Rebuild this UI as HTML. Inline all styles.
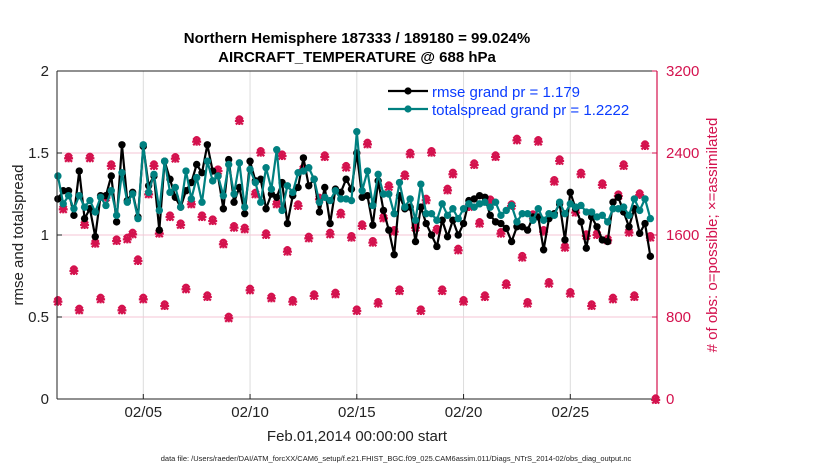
<!DOCTYPE html>
<html><head><meta charset="utf-8"><style>
body{margin:0;background:#fff;font-family:"Liberation Sans",sans-serif}
svg text{font-family:"Liberation Sans",sans-serif}
</style></head><body>
<svg id="chart" width="830" height="470" xmlns="http://www.w3.org/2000/svg">
<rect width="830" height="470" fill="#fff"/>
<g id="grid"></g>
<g id="series"></g>
<g id="axes"></g>
</svg>
<script>
const rmse=[1.22,1.27,1.27,1.12,1.39,1.10,1.16,0.99,1.24,1.24,1.36,1.08,1.55,1.21,1.26,1.11,1.54,1.30,1.36,1.03,1.45,1.34,1.23,1.17,1.27,1.32,1.43,1.38,1.55,1.39,1.36,1.16,1.46,1.20,1.29,1.13,1.45,1.33,1.34,1.16,1.25,1.23,1.32,1.07,1.24,1.29,1.47,1.30,1.34,1.14,1.29,1.07,1.28,1.26,1.34,1.28,1.50,1.23,1.24,1.06,1.33,1.15,1.03,0.88,1.24,1.16,1.17,0.96,1.17,1.07,1.00,0.93,1.09,0.99,1.09,1.00,1.07,1.21,1.22,1.24,1.23,1.12,1.08,1.07,1.04,0.96,1.05,1.05,1.03,1.11,1.11,0.91,1.10,1.13,1.19,0.97,1.26,1.16,1.08,0.92,1.11,1.05,0.97,0.96,1.20,1.23,1.14,1.05,1.16,1.01,1.07,0.87];
const spread=[1.36,1.19,1.24,1.16,1.24,1.17,1.21,1.14,1.23,1.18,1.27,1.12,1.38,1.20,1.25,1.10,1.55,1.26,1.37,1.15,1.45,1.26,1.29,1.17,1.39,1.22,1.35,1.20,1.45,1.33,1.36,1.24,1.43,1.25,1.44,1.17,1.40,1.32,1.20,1.41,1.28,1.52,1.15,1.30,1.26,1.38,1.39,1.41,1.34,1.20,1.23,1.21,1.27,1.22,1.22,1.21,1.63,1.27,1.39,1.18,1.37,1.25,1.25,1.13,1.32,1.17,1.22,1.09,1.31,1.13,1.13,1.09,1.19,1.12,1.16,1.10,1.16,1.19,1.17,1.19,1.20,1.17,1.20,1.12,1.15,1.18,1.08,1.13,1.13,1.09,1.16,1.09,1.13,1.12,1.20,1.13,1.19,1.17,1.18,1.14,1.14,1.11,1.12,1.08,1.16,1.16,1.17,1.12,1.22,1.15,1.22,1.10];
const nobs=[959,1860,2358,1259,875,1707,2358,1525,982,1974,2283,1551,875,1567,1616,1356,982,2006,2283,1623,917,1785,2354,1707,1080,1909,2520,1785,1005,1746,2234,1519,797,1681,2722,1665,1070,2006,2413,1610,992,1909,2380,1447,959,1893,2250,1577,1015,1958,2371,1616,1031,1811,2267,1584,868,1698,2494,1535,940,1772,2078,1642,1063,2185,2397,1681,868,1948,2413,1655,1063,2045,2202,1460,959,1883,2293,1720,1005,1941,2371,1623,1122,1893,2533,1389,940,1795,2520,1642,1135,2130,2332,1486,1037,1828,2202,1600,917,1610,2098,1558,982,1990,2283,1633,1005,2000,2478,1584,0];
const leftTicks=[0,0.5,1,1.5,2];
const rightTicks=[0,800,1600,2400,3200];
const dateTicks=[4,9,14,19,24];
const dateLabels=["02/05","02/10","02/15","02/20","02/25"];
const NS="http://www.w3.org/2000/svg";
const L=57,R=657,T=71,B=399;
const X=d=>57.9+21.35*d;
const Y=v=>B-(v/2)*(B-T);
const Y2=c=>B-(c/3200)*(B-T);
function mk(p,tag,at){const e=document.createElementNS(NS,tag);for(const k in at)e.setAttribute(k,at[k]);p.appendChild(e);return e;}
const grid=document.getElementById('grid'),ser=document.getElementById('series'),ax=document.getElementById('axes');
dateTicks.forEach((d,i)=>{const l=mk(grid,'line',{x1:X(d),x2:X(d),y1:T,y2:B,stroke:'#dcdcdc','stroke-width':1});

});
rightTicks.slice(1,4).forEach(c=>{const l=mk(grid,'line',{x1:L,x2:R,y1:Y2(c),y2:Y2(c),stroke:'#f6c6d6','stroke-width':1});

});
const pink='#d4124e';
nobs.forEach((c,i)=>{const x=X(i*0.25),y=Y2(c);const g=mk(ser,'g',{stroke:pink,'stroke-width':2.2,fill:'none'});


mk(g,'circle',{cx:x,cy:y-1,r:2.6});
mk(g,'line',{x1:x-4.5,x2:x+4.5,y1:y+1,y2:y+1});mk(g,'line',{x1:x,x2:x,y1:y-4,y2:y+5});
mk(g,'line',{x1:x-3.5,x2:x+3.5,y1:y-2.5,y2:y+4.5});mk(g,'line',{x1:x-3.5,x2:x+3.5,y1:y+4.5,y2:y-2.5});});
function series(arr,col,name){const pts=arr.map((v,i)=>X(i*0.25)+','+Y(v)).join(' ');
const pl=mk(ser,'polyline',{points:pts,fill:'none',stroke:col,'stroke-width':2.2});


arr.forEach((v,i)=>{const c=mk(ser,'circle',{cx:X(i*0.25),cy:Y(v),r:3.7,fill:col});

});}
series(rmse,'#000','rmse');
series(spread,'#008080','totalspread');
mk(ax,'line',{x1:L,x2:R,y1:T,y2:T,stroke:'#222','stroke-width':1});
mk(ax,'line',{x1:L,x2:R,y1:B,y2:B,stroke:'#222','stroke-width':1});
mk(ax,'line',{x1:L,x2:L,y1:T,y2:B,stroke:'#222','stroke-width':1});
mk(ax,'line',{x1:R,x2:R,y1:T,y2:B,stroke:pink,'stroke-width':1.2});
leftTicks.forEach(v=>{mk(ax,'line',{x1:L,x2:L+5,y1:Y(v),y2:Y(v),stroke:'#222'});
const t=mk(ax,'text',{x:L-8,y:Y(v)+5,'text-anchor':'end','font-size':15,fill:'#222'});t.textContent=v;

});
rightTicks.forEach(c=>{mk(ax,'line',{x1:R-5,x2:R,y1:Y2(c),y2:Y2(c),stroke:pink});
const t=mk(ax,'text',{x:R+9,y:Y2(c)+5,'font-size':15,fill:pink});t.textContent=c;

});
dateTicks.forEach((d,i)=>{mk(ax,'line',{x1:X(d),x2:X(d),y1:B-5,y2:B,stroke:'#222'});
const t=mk(ax,'text',{x:X(d),y:B+18,'text-anchor':'middle','font-size':15,fill:'#222'});t.textContent=dateLabels[i];

});
</script>
<svg width="830" height="470" style="position:absolute;left:0;top:0" xmlns="http://www.w3.org/2000/svg">
<text x="357" y="43" text-anchor="middle" font-size="15" font-weight="bold" fill="#000">Northern Hemisphere 187333 / 189180 = 99.024%</text>
<text x="357" y="62" text-anchor="middle" font-size="15" font-weight="bold" fill="#000">AIRCRAFT_TEMPERATURE @ 688 hPa</text>
<text transform="translate(23,235) rotate(-90)" text-anchor="middle" font-size="15" fill="#222">rmse and totalspread</text>
<text transform="translate(717,235) rotate(-90)" text-anchor="middle" font-size="15" fill="#d4124e"># of obs: o=possible; ×=assimilated</text>
<text x="357" y="441" text-anchor="middle" font-size="15" fill="#222">Feb.01,2014 00:00:00 start</text>
<text x="396" y="461" text-anchor="middle" font-size="7.5" fill="#222">data file: /Users/raeder/DAI/ATM_forcXX/CAM6_setup/f.e21.FHIST_BGC.f09_025.CAM6assim.011/Diags_NTrS_2014-02/obs_diag_output.nc</text>
<g>
<line x1="388" x2="428" y1="91" y2="91" stroke="#000" stroke-width="2.2"/><circle cx="408" cy="91" r="3.6" fill="#000"/>
<text x="432" y="97" font-size="15" fill="#0a3cff">rmse grand pr = 1.179</text></g>
<g>
<line x1="388" x2="428" y1="109" y2="109" stroke="#008080" stroke-width="2.2"/><circle cx="408" cy="109" r="3.6" fill="#008080"/>
<text x="432" y="115" font-size="15" fill="#0a3cff">totalspread grand pr = 1.2222</text></g>
</svg>
</body></html>
